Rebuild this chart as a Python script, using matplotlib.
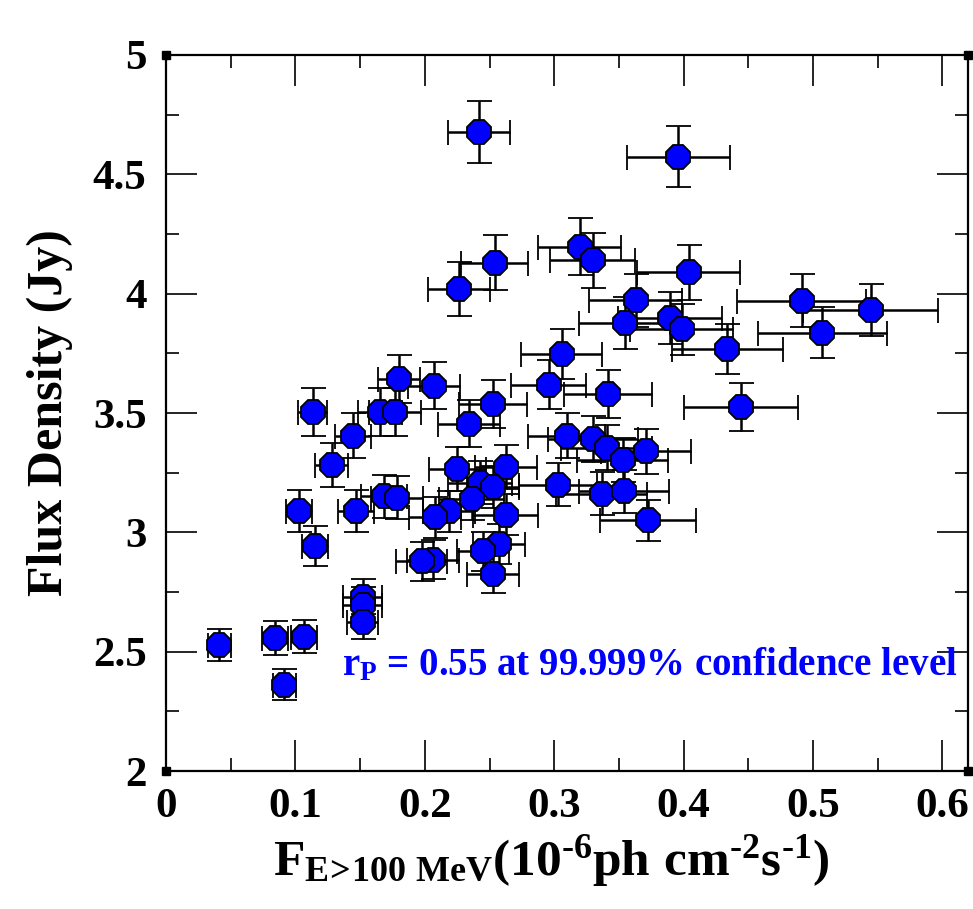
import numpy as np
import matplotlib.pyplot as plt

# gamma-ray flux (1e-6 ph cm^-2 s^-1) vs radio flux density (Jy)
flux_gamma = [0.0412, 0.0842, 0.1068, 0.0914, 0.152, 0.152, 0.152, 0.1151, 0.103, 0.1468,
              0.1684, 0.1787, 0.128, 0.1447, 0.1133, 0.1653, 0.1769, 0.1802, 0.207, 0.2343,
              0.2528, 0.225, 0.2626, 0.2426, 0.2524, 0.2362, 0.2188, 0.2078, 0.2626, 0.2575,
              0.2451, 0.2524, 0.2065, 0.1975, 0.303, 0.3095, 0.3301, 0.3404, 0.3528, 0.3708,
              0.3366, 0.3538, 0.3726, 0.2959, 0.3057, 0.3417, 0.444, 0.4339, 0.3548, 0.3893,
              0.3984, 0.3631, 0.4911, 0.5446, 0.5073, 0.4038, 0.3198, 0.3296, 0.2541, 0.2263,
              0.242, 0.396]
flux_gamma_err = [0.009, 0.01, 0.01, 0.009, 0.015, 0.015, 0.012, 0.01, 0.01, 0.014,
                  0.018, 0.02, 0.013, 0.014, 0.011, 0.017, 0.02, 0.016, 0.02, 0.024,
                  0.026, 0.022, 0.024, 0.025, 0.02, 0.025, 0.02, 0.02, 0.025, 0.02,
                  0.02, 0.02, 0.02, 0.02, 0.03, 0.03, 0.035, 0.035, 0.035, 0.035,
                  0.035, 0.035, 0.037, 0.029, 0.031, 0.034, 0.044, 0.043, 0.036, 0.04,
                  0.04, 0.036, 0.05, 0.052, 0.05, 0.04, 0.032, 0.033, 0.026, 0.024,
                  0.024, 0.04]
flux_radio = [2.529, 2.557, 2.563, 2.361, 2.731, 2.696, 2.626, 2.941, 3.088, 3.088,
              3.151, 3.144, 3.284, 3.405, 3.503, 3.503, 3.503, 3.643, 3.615, 3.456,
              3.539, 3.266, 3.274, 3.207, 3.19, 3.14, 3.088, 3.064, 3.074, 2.952,
              2.92, 2.826, 2.885, 2.878, 3.2, 3.405, 3.391, 3.354, 3.302, 3.339,
              3.162, 3.172, 3.05, 3.619, 3.749, 3.581, 3.524, 3.769, 3.878, 3.899,
              3.85, 3.973, 3.971, 3.931, 3.836, 4.09, 4.197, 4.14, 4.13, 4.018,
              4.677, 4.573]
flux_radio_err = [0.068, 0.07, 0.07, 0.065, 0.075, 0.075, 0.073, 0.084, 0.088, 0.088,
                  0.09, 0.09, 0.092, 0.095, 0.1, 0.1, 0.1, 0.1, 0.1, 0.097,
                  0.1, 0.092, 0.092, 0.09, 0.09, 0.088, 0.087, 0.086, 0.087, 0.083,
                  0.082, 0.08, 0.081, 0.081, 0.09, 0.095, 0.095, 0.094, 0.093, 0.094,
                  0.089, 0.089, 0.086, 0.101, 0.105, 0.1, 0.1, 0.106, 0.109, 0.109,
                  0.108, 0.111, 0.111, 0.11, 0.107, 0.115, 0.118, 0.116, 0.116, 0.113,
                  0.131, 0.128]

plt.rcParams['font.family'] = ['Liberation Serif', 'DejaVu Serif']
plt.rcParams['font.weight'] = 'bold'
plt.rcParams['mathtext.fontset'] = 'custom'
plt.rcParams['mathtext.rm'] = 'Liberation Serif:bold'
plt.rcParams['mathtext.it'] = 'Liberation Serif:bold'
plt.rcParams['mathtext.bf'] = 'Liberation Serif:bold'
plt.rcParams['mathtext.default'] = 'bf'

fig = plt.figure(figsize=(9.73, 9.09), dpi=100)
ax = fig.add_axes([0.1706, 0.1518, 0.8246, 0.7877])

ax.errorbar(flux_gamma, flux_radio, xerr=flux_gamma_err, yerr=flux_radio_err,
            fmt='8', ms=18, mfc='#0000ff', mec='black', mew=1.3,
            ecolor='black', elinewidth=1.8, capsize=9, capthick=1.8)

ax.set_xlim(0, 0.62)
ax.set_ylim(2, 5)
ax.set_xticks(np.arange(0, 0.61, 0.1))
ax.set_xticks(np.arange(0.05, 0.61, 0.1), minor=True)
ax.set_yticks(np.arange(2, 5.01, 0.5))
ax.set_yticks(np.arange(2.25, 5, 0.5), minor=True)
ax.set_xticklabels(['0', '0.1', '0.2', '0.3', '0.4', '0.5', '0.6'])
ax.set_yticklabels(['2', '2.5', '3', '3.5', '4', '4.5', '5'])

ax.tick_params(which='both', direction='in', top=True, right=True, width=1.2)
ax.tick_params(which='major', length=22, labelsize=31)
ax.tick_params(axis='x', which='major', pad=12)
ax.tick_params(axis='y', which='major', pad=14)
ax.tick_params(which='minor', length=9.5)
for sp in ax.spines.values():
    sp.set_linewidth(1.6)

# little corner squares like the original plotting tool
ax.plot([0, 0, 0.62, 0.62], [2, 5, 2, 5], 's', ms=6, color='black', clip_on=False, zorder=5)

hy = '\u2010'
ax.set_xlabel(r'$F_{E\!>\!100\ MeV}(10^{' + hy + r'6}ph\ cm^{' + hy + r'2}s^{' + hy + r'1})$',
              fontsize=37)
ax.xaxis.set_label_coords(0.48, -0.087)
ax.set_ylabel('Flux Density (Jy)', fontsize=36, fontweight='bold', labelpad=14)

ax.text(0.987, 0.134, r'$r_P$ = 0.55 at 99.999% confidence level', transform=ax.transAxes,
        ha='right', va='baseline', color='#0000ff', fontsize=28, fontweight='bold')

plt.savefig('out.png', dpi=100)
